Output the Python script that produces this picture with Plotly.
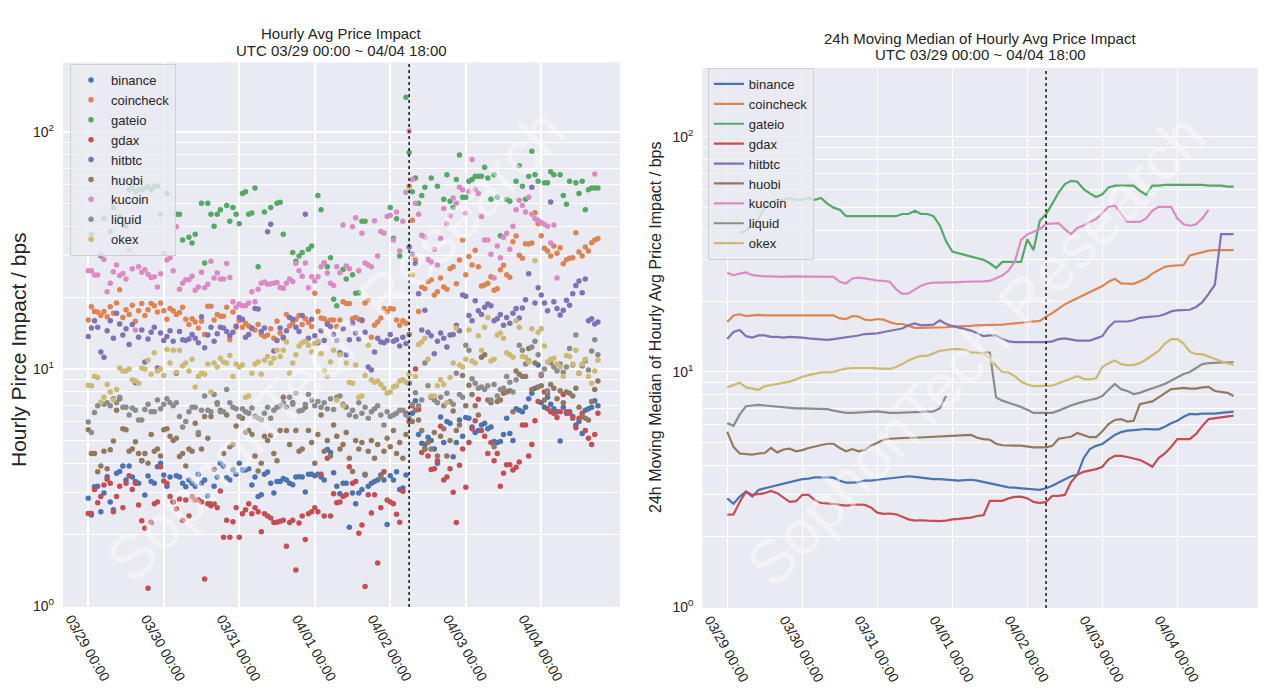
import plotly.graph_objects as go
import pandas as pd

# ---------------- data ----------------
EXCHANGES = ["binance", "coincheck", "gateio", "gdax", "hitbtc", "huobi", "kucoin", "liquid", "okex"]
COLORS = ["#4C72B0", "#DD8452", "#55A868", "#C44E52", "#8172B3", "#937860", "#DA8BC3", "#8C8C8C", "#CCB974"]
START = "2019-03-29 00:00"
EVENT_TIME = "2019-04-02 06:00"
TICK_DAYS = ["2019-03-29", "2019-03-30", "2019-03-31", "2019-04-01", "2019-04-02", "2019-04-03", "2019-04-04"]
TICK_LABELS = ["03/29 00:00", "03/30 00:00", "03/31 00:00", "04/01 00:00", "04/02 00:00", "04/03 00:00", "04/04 00:00"]
TITLE_LEFT = ["Hourly Avg Price Impact", "UTC 03/29 00:00 ~ 04/04 18:00"]
TITLE_RIGHT = ["24h Moving Median of Hourly Avg Price Impact", "UTC 03/29 00:00 ~ 04/04 18:00"]
YLABEL_LEFT = "Hourly Pirce Impact / bps"
YLABEL_RIGHT = "24h Moving Median of Hourly Avg Price Impact / bps"
WATERMARK = "SophonTech Research"

# hourly averages (left), one value per hour from 03/29 00:00
binance_hourly = [
    2.85, 2.42, 3.19, 3.2, 2.5, 3.0, 3.51, 2.75, 2.55, 3.63, 3.7, 3.9, 3.4, 3.9, 3.5, 3.35, 3.3, 4.1, 2.94, 3.54, 3.35, 3.3, 3.87, 4.0,
    3.57, 3.2, 3.5, 2.75, 3.55, 3.5, 3.3, 3.19, 3.4, 3.3, 3.2, 3.6, 3.3, 3.4, 2.92, 2.7, 3.2, 3.5, 4.0, 3.9, 3.48, 3.4, 3.75, 3.6,
    4.0, 3.75, 3.75, 3.8, 3.24, 3.5, 2.9, 2.95, 3.6, 3.68, 3.3, 3.0, 3.35, 3.35, 3.45, 3.4, 3.3, 3.25, 3.5, 3.51, 3.5, 3.03, 3.6, 3.6,
    3.55, 3.6, 3.5, 3.4, 4.58, 4.45, 3.65, 3.2, 2.98, 3.3, 3.3, 2.15, 3.0, 2.7, 3.0, 3.1, 3.57, 3.2, 3.3, 3.35, 3.4, 3.57, 3.4, 2.21,
    3.55, 3.4, 3.69, 3.1, 3.15, 3.57, 8.7, 6.5, 7.35, 5.3, 4.86, 4.8, 5.15, 5.0, 4.6, 4.0, 6.28, 4.9, 6.0, 5.9, 4.26, 4.9, 6.1, 5.2,
    6.25, 6.2, 5.7, 5.4, 5.5, 5.8, 5.9, 5.6, 5.7, 4.94, 4.9, 4.95, 5.3, 6.2, 5.35, 5.0, 6.8, 6.7, 6.6, 6.9, 7.5, 7.9, 8.3, 10.4,
    7.2, 6.9, 7.6, 7.1, 6.8, 6.6, 4.97, 6.9, 6.5, 6.6, 6.3, 5.8, 6.0, 5.35, 6.7, 6.8, 6.9, 7.35, 7.0,
]
coincheck_hourly = [
    16.1, 18.3, 17.5, 17.4, 16.8, 17.5, 16.6, 18.3, 17.2, 19.0, 21.6, 16.5, 17.8, 17.0, 18.6, 15.9, 17.6, 18.9, 16.8, 17.8, 18.9, 18.5, 17.4, 19.0,
    17.6, 16.2, 18.0, 17.6, 17.0, 17.3, 18.2, 16.2, 15.4, 16.3, 15.8, 14.9, 15.9, 14.0, 18.4, 18.4, 16.1, 17.0, 16.7, 16.7, 18.2, 13.3, 17.4, 15.0,
    16.0, 15.0, 15.6, 15.2, 14.8, 14.6, 15.4, 14.0, 13.7, 13.9, 14.8, 13.5, 15.9, 14.2, 13.5, 17.0, 15.2, 15.6, 16.2, 16.8, 15.4, 16.3, 15.7, 15.1,
    20.9, 17.5, 16.4, 16.3, 15.8, 16.1, 16.1, 15.1, 16.1, 19.2, 18.9, 18.9, 16.3, 16.5, 16.2, 16.0, 19.0, 19.5, 13.6, 15.3, 15.8, 16.4, 18.0, 17.4,
    18.0, 17.9, 16.1, 15.3, 16.0, 15.6, 59.0, 42.4, 29.1, 17.5, 22.2, 21.8, 23.4, 23.8, 20.5, 21.2, 24.2, 22.2, 21.7, 26.5, 27.0, 22.9, 28.8, 35.0,
    25.0, 29.8, 27.5, 31.7, 27.0, 22.4, 22.6, 23.0, 24.5, 21.5, 21.8, 26.2, 27.4, 25.0, 24.4, 34.4, 36.4, 30.2, 29.3, 33.8, 33.7, 34.0, 45.6, 41.0,
    36.5, 32.3, 31.5, 30.0, 33.0, 30.8, 32.5, 27.8, 28.9, 29.3, 29.5, 37.6, 31.2, 30.0, 32.7, 31.5, 34.1, 35.0, 35.5,
]
gateio_hourly = [
    None, 37, None, None, 30, 43, None, 38, 48, None, 44, None, 40, 57, 58, 56, 57, 57, 58, 59, 57, 59, 59, 45,
    None, 55, None, None, 45, 45, 35, None, 36, 34, 37, None, 50, 28, 50, 45, 40, 45, 47, None, 49, 42, 48, 45,
    41, 55, 56, 45, 45.5, 58, 27, None, 46, None, 48, None, 50, 50.5, 37, None, None, 31, 28.5, 30, 31, None, 32, 33,
    None, 54, 47, 28, 27, 29.5, 19.7, 18.5, None, 26.3, 24, None, 25, 20.9, 21, 42, 42, None, None, None, None, None, None, None,
    48, 35.6, 43, 30, None, 140, 82, 56, 64, 50, 54, 58.5, None, 64, None, 59, None, 52, 66, 51, 48, 63, 80, 53,
    53, 62, 63, 65, 65, 65, 71, 64, 52, 66, 53, 36.5, None, 52, 51, None, 62, 72, 59, 52, 65, 83, 66, 62,
    None, 61, 61, 68, 66, None, 66, 54, 49.5, 62, None, 61, 55, 62, 47, 57, 58, 58, 58,
]
gdax_hourly = [
    2.46, 2.46, 3.1, 2.73, 2.9, 3.24, 3.43, 3.3, 2.5, 2.9, 3.2, 2.6, 3.3, 3.55, 3.1, 3.3, 2.67, 2.29, 2.13, 1.19, 2.26, 2.7, 2.75, 3.87,
    3.37, 3.3, 2.9, 2.75, 2.57, 2.83, 2.3, 2.8, 2.4, 2.9, 2.8, 2.8, 2.75, 1.3, 2.7, 2.65, 2.7, 2.6, 3.06, 1.95, 2.3, 1.95, 2.27, 2.6,
    1.95, 2.45, 2.55, 2.7, 2.45, 2.6, 2.5, 2.06, 2.45, 2.4, 2.35, 2.25, 2.26, 2.28, 2.3, 1.79, 2.25, 2.3, 1.42, 2.24, 2.4, 1.91, 2.45, 2.5,
    2.6, 2.5, 3.6, 2.4, 4.2, 2.4, 2.98, 2.73, 2.75, 2.9, 2.95, 3.87, 3.3, 3.35, 2.03, 2.2, 1.21, 2.95, 2.47, 2.95, 1.52, 2.6, 3.69, 2.8,
    2.75, 2.7, 2.44, 2.26, 3.05, 6.5, 6.0, 7.0, 10.0, 6.75, 4.44, 4.6, 4.3, 3.77, 3.8, 4.1, 5.74, 3.4, 3.5, 3.8, 3.02, 2.25, 3.93, 4.6,
    3.17, 4.9, 5.6, 6.05, 7.45, 5.5, 5.2, 4.4, 4.9, 4.1, 4.4, 3.2, 3.63, 3.95, 3.95, 3.75, 3.85, 4.05, 5.8, 5.8, 4.3, 4.8, 6.05, 7.3,
    9.4, 8.0, 6.8, 6.6, 6.5, 6.25, 6.6, 7.8, 6.6, 6.5, 6.2, 5.65, 6.2, 6.5, 5.5, 5.1, 4.8, 5.3, 6.5,
]
hitbtc_hourly = [
    13.7, 14.9, 16.0, 15.0, 11.8, 11.2, 14.5, 16.0, 13.5, 17.2, 15.5, 13.9, 14.8, 12.7, 15.4, 8.75, 13.6, 14.6, 10.7, 13.4, 14.3, 15.0, 10.1, 14.2,
    13.2, 13.7, 14.5, 13.1, 9.6, 14.4, 13.3, 13.2, 13.4, 14.0, 13.5, 12.9, 16.6, 12.3, 13.9, 15.0, 13.1, 14.1, 15.0, 14.9, 14.4, 13.8, 14.3, 15.2,
    16.5, 16.2, 13.6, 14.0, 14.9, 18.0, 17.9, 14.4, 14.9, 37.9, 40.8, 11.9, 13.2, 14.9, 13.6, 14.5, 16.5, 16.2, 15.0, 14.4, 16.8, 45.0, 13.5, 16.2,
    13.8, 12.9, 14.5, 13.2, 15.4, 15.1, 14.0, 13.2, 11.7, 14.8, 11.5, 13.3, 15.6, 14.2, 13.4, 16.1, 14.3, 10.2, 9.9, 11.8, 13.5, 13.0, 12.9, 13.2,
    14.0, 13.1, 13.3, 12.5, 13.6, 12.8, 32.7, 30.5, 27.9, 20.8, 14.6, 17.7, 14.3, 13.8, 11.6, 13.1, 14.2, 13.5, 12.4, 13.9, 14.0, 15.3, 14.5, 20.5,
    20.3, 16.8, 16.0, 19.4, 17.6, 17.0, 18.2, 18.8, 18.5, 16.0, 16.3, 17.0, 15.3, 16.5, 15.6, 17.2, 18.0, 16.4, 18.1, 19.6, 25.2, 58.4, 19.0, 22.0,
    20.5, 19.0, 17.6, 50.6, 19.2, 18.0, 16.9, 17.7, 19.5, 18.6, 20.8, 22.5, 23.5, 21.0, 24.0, 16.0, 16.3, 15.5, 15.8,
]
huobi_hourly = [
    5.54, 4.4, 4.4, 3.69, 3.9, 4.5, 3.8, 4.57, 4.97, 6.7, 7.5, 5.6, 5.55, 4.5, 4.6, 4.93, 4.4, 4.1, 4.4, 4.0, 5.3, 4.5, 4.6, 4.3,
    5.55, 5.6, 5.2, 5.0, 5.1, 4.28, 4.4, 3.9, 4.6, 4.5, 5.9, 5.3, 4.6, 6.3, 5.1, 6.3, 3.77, 7.2, 6.7, 4.4, 6.4, 4.7, 4.8, 5.75,
    6.3, 6.2, 5.4, 5.5, 5.3, 4.3, 3.71, 4.0, 5.2, 5.0, 5.25, 4.4, 4.1, 5.5, 7.6, 5.5, 4.8, 7.2, 5.5, 4.5, 4.6, 6.9, 5.5, 4.9,
    4.0, 5.3, 6.4, 4.5, 5.0, 4.3, 5.8, 5.2, 4.6, 4.8, 5.4, 4.2, 3.7, 5.0, 4.6, 4.9, 3.6, 4.5, 5.0, 4.2, 4.8, 3.5, 4.5, 5.1,
    4.7, 5.5, 4.4, 4.9, 4.2, 5.3, 14.0, 6.0, 6.7, 6.1, 5.5, 4.6, 4.9, 4.6, 5.4, 4.3, 5.2, 5.6, 4.3, 5.0, 6.65, 5.5, 5.8, 9.4,
    7.0, 8.55, 7.8, 7.0, 6.4, 11.2, 11.5, 7.4, 7.2, 4.7, 7.3, 7.4, 7.9, 8.0, 8.1, 6.6, 9.8, 9.5, 9.3, 9.3, 12.2, 8.2, 10.6, 8.4,
    8.5, 7.4, 7.9, 8.6, 8.3, 7.5, 8.1, 7.2, 8.0, 7.9, 7.7, 8.3, 6.9, 6.3, 6.2, 6.1, 7.3, 8.2, 8.9,
]
kucoin_hourly = [
    26.0, 26.0, 24.9, 24.9, 30.4, 29.0, 21.2, 23.0, 25.7, 27.5, 24.8, 25.3, 24.0, 31.8, 26.5, 14.6, 27.0, 25.6, 26.2, 25.1, 24.3, 24.5, 22.2, 25.2,
    30.7, 28.8, 29.5, 26.0, 39.8, 21.7, 23.0, 23.8, 23.8, 24.6, 21.5, 22.2, 25.6, 22.0, 22.8, 28.5, 24.2, 25.4, 24.0, 24.0, 27.9, 24.3, 19.2, 18.2,
    18.8, 18.5, 18.5, 19.0, 21.2, 19.2, 21.7, 23.0, 23.3, 22.8, 22.9, 23.0, 23.2, 22.1, 21.9, 23.0, 24.0, 23.4, 27.9, 26.0, 24.6, 28.0, 22.0, 24.5,
    23.5, 24.5, 27.0, 28.0, 25.4, 23.0, 22.5, 27.0, 25.5, 40.5, 27.2, 26.5, 39.8, 43.5, 26.0, 37.4, 28.0, 27.5, 27.0, 42.2, 30.0, 38.0, 37.5, 44.0,
    44.5, 35.0, 46.0, 31.5, 42.0, 55.7, 101.0, 63.0, 50.0, 45.0, 36.7, 36.0, 29.0, 28.3, 32.0, 27.5, 35.5, 47.6, 41.0, 44.3, 52.6, 50.0, 58.4, 57.0,
    45.5, 56.0, 76.6, 57.5, 55.0, 44.0, 35.0, 35.0, 30.5, 24.2, 33.0, 29.5, 36.0, 37.4, 32.0, 40.0, 47.0, 51.5, 49.0, 46.0, 53.0, 45.0, 43.0, 42.4,
    41.5, 40.8, 40.0, 34.0, 40.5, 24.2, None, None, None, None, None, None, None, None, None, None, None, 66.5, None,
]
liquid_hourly = [
    5.98, 5.4, 6.55, 7.0, 7.2, 7.1, 7.2, 7.0, 7.5, 7.2, 7.6, 6.9, 6.9, 6.4, 6.85, 6.7, 6.1, 6.1, 6.75, 7.1, 6.6, 6.6, 7.4, 6.8,
    7.1, 7.5, 7.2, 7.0, 7.2, 6.3, 5.7, 6.0, 6.6, 6.9, 6.9, 5.4, 6.7, 7.7, 6.7, 6.6, 7.8, 7.1, 6.6, 6.6, 8.2, 7.2, 6.9, 6.8,
    6.3, 6.8, 6.6, 6.5, 6.85, 6.3, 6.2, 6.1, 6.5, 6.9, 6.2, 6.7, 6.9, 7.0, 7.2, 6.9, 7.6, 7.1, 7.9, 6.65, 6.7, 7.1, 7.8, 7.4,
    7.0, 7.3, 6.9, 7.2, 6.8, 7.5, 6.75, 7.6, 7.7, 7.1, 6.9, 6.4, 6.7, 6.3, 7.2, 6.5, 6.9, 6.2, 6.6, 6.8, 7.0, 6.4, 5.8, 6.6,
    6.3, 6.4, 6.5, 6.7, 6.7, 6.4, 6.2, 7.1, 7.95, 7.0, 7.4, 10.6, 8.5, 7.6, 7.4, 7.2, 7.6, 7.0, 7.9, 7.3, 7.1, 9.6, 7.8, 7.6,
    12.6, 12.0, 9.1, 8.7, 8.3, 8.4, 8.2, 8.5, 7.4, 8.6, 7.7, 8.2, 8.3, 9.3, 8.8, 8.0, 9.0, 12.6, 12.0, 10.5, 10.8, 12.4, 13.1, 11.5,
    9.5, 10.0, 8.1, 10.6, 10.2, 9.8, 10.5, 9.7, 10.2, 12.2, 10.4, 13.9, 9.6, 10.3, 10.8, 9.9, 11.9, 13.3, 11.5,
]
okex_hourly = [
    8.55, 8.5, 9.3, 9.2, 7.25, 7.6, 8.6, 8.0, 7.4, 8.2, 10.1, 9.8, 9.8, 10.0, 9.0, 8.9, 8.7, 10.1, 10.0, 10.9, 9.5, 11.7, 9.8, 10.0,
    9.4, 12.1, 10.6, 12.0, 9.7, 12.0, 10.3, 10.6, 9.8, 11.0, 8.4, 9.3, 9.6, 9.5, 10.5, 8.0, 10.6, 10.2, 11.1, 10.7, 10.6, 11.4, 9.3, 10.5,
    10.2, 10.4, 7.6, 7.7, 9.6, 10.5, 10.7, 9.5, 10.9, 11.3, 10.6, 11.1, 12.0, 11.3, 12.0, 13.0, 9.6, 10.6, 11.5, 12.5, 12.9, 13.1, 12.6, 11.8,
    12.8, 13.1, 11.6, 9.8, 9.3, 10.7, 12.0, 7.4, 11.5, 7.0, 10.6, 8.8, 8.7, 10.4, 7.6, 7.7, 9.4, 12.6, 9.0, 8.8, 8.9, 8.6, 8.3, 7.9,
    8.0, 8.4, 8.5, 8.9, 9.0, 8.8, 9.5, 25.0, 9.3, 12.7, 13.0, 13.5, 11.0, 7.7, 7.7, 8.5, 9.0, 8.6, 7.2, 9.2, 10.6, 14.9, 10.4, 10.2,
    11.0, 14.6, 10.8, 10.6, 13.8, 12.0, 15.0, 16.5, 10.8, 11.0, 13.9, 14.2, 13.5, 11.7, 11.5, 11.2, 16.0, 15.0, 11.3, 11.2, 10.7, 14.8, 28.6, 14.3,
    14.8, 12.5, 10.7, 11.0, 11.1, 10.5, 10.2, 9.3, 11.4, 11.3, 10.5, 12.0, 9.6, 10.5, 11.0, 9.3, 8.7, 9.8, 10.9,
]

# 24h moving medians (right), one value every 2 hours from 03/29 00:00
binance_median = [
    2.9, 2.75, 2.95, 3.1, 2.95, 3.15, 3.2, 3.25, 3.3, 3.35, 3.4, 3.45,
    3.5, 3.52, 3.56, 3.56, 3.56, 3.55, 3.45, 3.38, 3.38, 3.4, 3.45, 3.45,
    3.48, 3.5, 3.52, 3.55, 3.58, 3.6, 3.58, 3.55, 3.52, 3.5, 3.5, 3.48,
    3.46, 3.45, 3.47, 3.48, 3.45, 3.4, 3.35, 3.32, 3.27, 3.23, 3.22, 3.2,
    3.2, 3.17, 3.15, 3.2, 3.28, 3.39, 3.5, 3.6, 3.65, 4.3, 4.7, 4.85,
    4.94, 5.15, 5.4, 5.55, 5.63, 5.66, 5.7, 5.72, 5.7, 5.7, 5.85, 6.05,
    6.2, 6.45, 6.63, 6.6, 6.65, 6.65, 6.65, 6.7, 6.75, 6.78,
]
coincheck_median = [
    16.3, 17.4, 17.6, 17.3, 17.4, 17.5, 17.4, 17.4, 17.5, 17.4, 17.4, 17.5,
    17.4, 17.4, 17.5, 17.5, 17.5, 17.4, 16.9, 16.8, 17.3, 17.2, 16.7, 16.6,
    16.8, 16.7, 16.3, 16.0, 16.0, 15.7, 15.4, 15.4, 15.4, 15.4, 15.4, 15.5,
    15.6, 15.6, 15.6, 15.7, 15.8, 15.8, 15.8, 15.9, 15.9, 16.0, 16.1, 16.2,
    16.3, 16.4, 16.5, 17.2, 17.8, 18.6, 19.4, 20.0, 20.6, 21.3, 21.9, 22.5,
    23.2, 24.2, 24.9, 23.8, 23.7, 23.7, 24.3, 25.0, 26.2, 27.2, 28.0, 28.3,
    28.3, 28.5, 31.3, 31.8, 32.5, 32.8, 33.0, 33.0, 33.0, 33.0,
]
gateio_median = [
    None, None, 39, 40, 42, 45, 50, 53, 54, 54, 55, 54,
    54, 55, 54, 55, 52, 50, 49, 46, 46, 46, 46, 46,
    46, 46, 46, 46, 47, 47, 48.5, 47, 47, 46, 42, 36,
    32.5, 32, 31.5, 31, 30.5, 30, 29, 27.7, 29.4, 29.4, 29.4, 29.4,
    36.7, 33, 44, 47, 52, 58, 63, 65, 64.5, 60, 57.5, 55.5,
    57, 61, 62, 62, 62, 62, 59, 56.7, 62, 62, 62.5, 62.5,
    62.5, 62.5, 62.5, 62.5, 62.5, 62, 62, 62, 61.5, 61.5,
]
gdax_median = [
    2.47, 2.48, 2.8, 3.1, 3.0, 3.02, 3.05, 3.12, 3.05, 2.92, 2.8, 2.82,
    3.0, 3.0, 2.85, 2.77, 2.77, 2.75, 2.72, 2.7, 2.72, 2.73, 2.72, 2.65,
    2.52, 2.49, 2.5, 2.48, 2.42, 2.36, 2.33, 2.34, 2.33, 2.32, 2.32, 2.33,
    2.36, 2.37, 2.38, 2.4, 2.44, 2.46, 2.83, 2.83, 2.83, 2.9, 2.94, 2.95,
    2.9, 2.8, 2.77, 2.8, 2.97, 2.97, 3.0, 3.4, 3.65, 3.76, 3.8, 3.86,
    3.95, 4.25, 4.4, 4.4, 4.35, 4.28, 4.22, 4.1, 3.95, 4.3, 4.5, 4.8,
    5.18, 5.18, 5.18, 5.45, 5.9, 6.3, 6.35, 6.4, 6.45, 6.52,
]
hitbtc_median = [
    13.8, 14.8, 15.1, 14.2, 14.0, 14.3, 14.3, 14.1, 14.1, 14.0, 14.1, 14.1,
    14.0, 13.9, 13.8, 13.8, 13.7, 13.8, 13.9, 14.0, 14.1, 14.3, 14.5, 14.5,
    14.6, 14.8, 15.0, 15.2, 15.3, 15.8, 16.1, 15.8, 15.8, 15.9, 16.6, 16.0,
    15.7, 15.5, 15.2, 15.0, 14.6, 14.2, 14.3, 14.3, 13.8, 13.5, 13.4, 13.4,
    13.4, 13.4, 13.4, 13.4, 13.5, 13.8, 13.9, 13.7, 13.6, 13.6, 13.6, 13.9,
    14.2, 15.5, 16.4, 16.4, 16.4, 16.6, 17.0, 17.1, 17.2, 17.3, 17.6, 18.1,
    18.3, 18.4, 18.4, 18.9, 19.8, 21.5, 23.5, 38.6, 38.6, 38.6,
]
huobi_median = [
    5.56, 4.8, 4.5, 4.48, 4.45, 4.5, 4.52, 4.75, 4.55, 4.68, 4.72, 4.6,
    4.65, 4.75, 4.82, 4.88, 4.95, 4.95, 4.75, 4.6, 4.7, 4.6, 4.65, 4.86,
    5.0, 5.15, 5.2, 5.22, 5.25, 5.25, 5.25, 5.27, 5.28, 5.28, 5.3, 5.32,
    5.35, 5.35, 5.38, 5.4, 5.25, 5.18, 5.15, 4.95, 4.88, 4.86, 4.86, 4.86,
    4.82, 4.78, 4.78, 4.78, 4.85, 5.2, 5.25, 5.3, 5.5, 5.4, 5.28, 5.28,
    5.6, 6.0, 6.25, 6.3, 6.15, 6.2, 7.3, 7.4, 7.5, 7.8, 8.1, 8.45,
    8.5, 8.55, 8.5, 8.5, 8.6, 8.65, 8.3, 8.22, 8.15, 7.9,
]
kucoin_median = [
    26.4, 25.8, 26.2, 26.5, 25.8, 25.6, 25.5, 25.5, 25.4, 25.4, 25.5, 25.5,
    25.5, 25.4, 25.5, 25.5, 25.5, 25.4, 24.2, 23.8, 25.0, 25.2, 25.0, 24.7,
    24.5, 24.4, 24.2, 22.5, 21.5, 21.6, 22.5, 23.3, 23.8, 24.0, 24.0, 24.0,
    24.1, 24.1, 24.2, 24.2, 24.2, 24.3, 24.4, 25.0, 25.7, 27.0, 29.5, 36.5,
    38.5, 39.5, 40.5, 42.6, 42.8, 43.0, 40.5, 38.6, 41.0, 42.0, 43.5, 44.7,
    47.5, 50.5, 51.0, 47.0, 43.5, 43.5, 43.5, 45.0, 48.5, 50.4, 50.4, 50.4,
    45.0, 42.5, 41.9, 42.5, 45.0, 49.0, None, None, None, None,
]
liquid_median = [
    6.06, 5.9, 6.6, 7.15, 7.2, 7.24, 7.2, 7.15, 7.1, 7.05, 7.0, 7.0,
    7.0, 7.0, 7.0, 6.98, 6.95, 6.85, 6.75, 6.7, 6.7, 6.72, 6.75, 6.8,
    6.8, 6.75, 6.7, 6.7, 6.72, 6.72, 6.75, 6.78, 6.8, 6.8, 7.0, 7.9,
    None, None, None, None, None, 12.1, 12.1, 7.8, 7.55, 7.4, 7.25, 7.1,
    6.9, 6.7, 6.7, 6.7, 6.7, 6.85, 7.05, 7.2, 7.35, 7.5, 7.6, 7.7,
    7.9, 8.4, 8.9, 8.45, 8.3, 8.06, 8.15, 8.35, 8.5, 8.7, 8.9, 9.2,
    9.5, 9.8, 10.0, 10.4, 10.8, 10.9, 10.95, 11.0, 11.0, 11.0,
]
okex_median = [
    8.6, 8.8, 9.0, 8.6, 8.5, 8.4, 8.7, 8.8, 8.85, 8.95, 9.1, 9.3,
    9.55, 9.7, 9.85, 9.96, 9.96, 10.0, 10.2, 10.35, 10.4, 10.4, 10.45, 10.4,
    10.35, 10.3, 10.3, 10.5, 10.8, 11.2, 11.5, 11.7, 11.7, 12.0, 12.3, 12.4,
    12.5, 12.5, 12.4, 12.1, 12.1, 12.0, 11.4, 10.6, 10.0, 9.95, 9.6, 9.1,
    8.85, 8.7, 8.7, 8.7, 8.75, 8.95, 9.15, 9.4, 9.6, 9.35, 9.3, 9.4,
    10.5, 10.9, 11.2, 10.8, 10.7, 10.7, 10.9, 11.3, 11.8, 12.3, 13.2, 13.8,
    13.8, 13.2, 12.2, 11.9, 11.9, 11.6, 11.3, 11.1, 10.9, 10.7,
]

HOURLY = [binance_hourly, coincheck_hourly, gateio_hourly, gdax_hourly, hitbtc_hourly,
          huobi_hourly, kucoin_hourly, liquid_hourly, okex_hourly]
MEDIAN = [binance_median, coincheck_median, gateio_median, gdax_median, hitbtc_median,
          huobi_median, kucoin_median, liquid_median, okex_median]

MAJOR_Y = [1, 10, 100]
MAJOR_Y_TEXT = ["10<sup>0</sup>", "10<sup>1</sup>", "10<sup>2</sup>"]
MINOR_Y = [2, 3, 4, 5, 6, 7, 8, 9, 20, 30, 40, 50, 60, 70, 80, 90, 200]

# ---------------- figure ----------------
FONT = "Liberation Sans, Arial, sans-serif"
TXT = "#262626"
BG = "#EAEAF2"
LABEL_SHIFT = pd.Timedelta(hours=5.5)   # rotated labels are centred under their tick, as in the source

fig = go.Figure()

for name, color, vals in zip(EXCHANGES, COLORS, HOURLY):
    t = pd.date_range(START, periods=len(vals), freq="h")
    fig.add_trace(go.Scatter(
        x=t, y=vals, mode="markers", name=name, legend="legend",
        marker=dict(color=color, size=5.5, line=dict(width=0)),
        xaxis="x", yaxis="y",
    ))

for name, color, vals in zip(EXCHANGES, COLORS, MEDIAN):
    t = pd.date_range(START, periods=len(vals), freq="2h")
    fig.add_trace(go.Scatter(
        x=t, y=vals, mode="lines", name=name, legend="legend2",
        line=dict(color=color, width=2.2), connectgaps=False,
        xaxis="x2", yaxis="y2",
    ))

label_pos = [pd.Timestamp(d) - LABEL_SHIFT for d in TICK_DAYS]

def xaxis_cfg(domain, rng, anchor, gw):
    return dict(
        domain=domain, anchor=anchor, type="date", range=rng,
        tickmode="array", tickvals=label_pos, ticktext=TICK_LABELS, tickangle=60,
        showgrid=False, zeroline=False, showline=False, ticks="",
        tickfont=dict(family=FONT, size=14, color=TXT),
        minor=dict(tickmode="array", tickvals=TICK_DAYS, showgrid=True,
                   gridcolor="white", gridwidth=gw, ticks=""),
        automargin=False,
    )

def yaxis_cfg(domain, anchor, gw):
    return dict(
        domain=domain, anchor=anchor, type="log", range=[-0.004, 2.293],
        tickmode="array", tickvals=MAJOR_Y, ticktext=MAJOR_Y_TEXT,
        showgrid=True, gridcolor="white", gridwidth=gw, zeroline=False,
        showline=False, ticks="", ticklabelstandoff=8,
        tickfont=dict(family=FONT, size=14, color=TXT),
        minor=dict(tickmode="array", tickvals=MINOR_Y, showgrid=True,
                   gridcolor="white", gridwidth=0.8, ticks=""),
        automargin=False,
    )

fig.update_layout(
    width=1280, height=697,
    margin=dict(l=0, r=0, t=0, b=0),
    paper_bgcolor="white", plot_bgcolor=BG,
    font=dict(family=FONT, color=TXT, size=13),
    xaxis=xaxis_cfg([0.0492, 0.4844], ["2019-03-28 15:58", "2019-04-05 01:02"], "y", 1.8),
    yaxis=yaxis_cfg([0.1291, 0.9103], "x", 1.8),
    xaxis2=xaxis_cfg([0.5488, 0.9828], ["2019-03-28 16:04", "2019-04-05 01:48"], "y2", 1.2),
    yaxis2=yaxis_cfg([0.1277, 0.9024], "x2", 1.2),
    legend=dict(x=0.0547, y=1 - 64 / 697, xanchor="left", yanchor="top",
                bgcolor="rgba(234,234,242,0.8)", bordercolor="#CFCFD6", borderwidth=1,
                font=dict(family=FONT, size=13, color=TXT)),
    legend2=dict(x=0.553, y=1 - 68 / 697, xanchor="left", yanchor="top",
                 bgcolor="rgba(234,234,242,0.8)", bordercolor="#CFCFD6", borderwidth=1,
                 font=dict(family=FONT, size=13, color=TXT)),
    showlegend=True,
)

# event marker (dotted vertical line) on both panels
for xr, yr in (("x", "y domain"), ("x2", "y2 domain")):
    fig.add_shape(type="line", xref=xr, yref=yr, x0=EVENT_TIME, x1=EVENT_TIME, y0=0, y1=1,
                  line=dict(color="#222222", width=1.6, dash="dot"))

def txt(text, x, y, size, angle=0, color=TXT):
    return dict(text=text, x=x / 1280, y=1 - y / 697, xref="paper", yref="paper",
                xanchor="center", yanchor="middle", textangle=angle, showarrow=False,
                font=dict(family=FONT, size=size, color=color))

annotations = [
    txt(TITLE_LEFT[0], 341, 33, 15),
    txt(TITLE_LEFT[1], 341, 50, 15),
    txt(TITLE_RIGHT[0], 980, 38, 15),
    txt(TITLE_RIGHT[1], 980, 55, 15),
    txt(YLABEL_LEFT, 18, 350, 21, -90),
    txt(YLABEL_RIGHT, 655, 328, 16, -90),
    txt(WATERMARK, 335, 345, 62, -46, "rgba(255,255,255,0.42)"),
    txt(WATERMARK, 975, 350, 62, -46, "rgba(255,255,255,0.42)"),
]
fig.update_layout(annotations=annotations)

fig.write_html("out.html", config={"displayModeBar": False},
               post_script="document.body.style.margin='0px';")
